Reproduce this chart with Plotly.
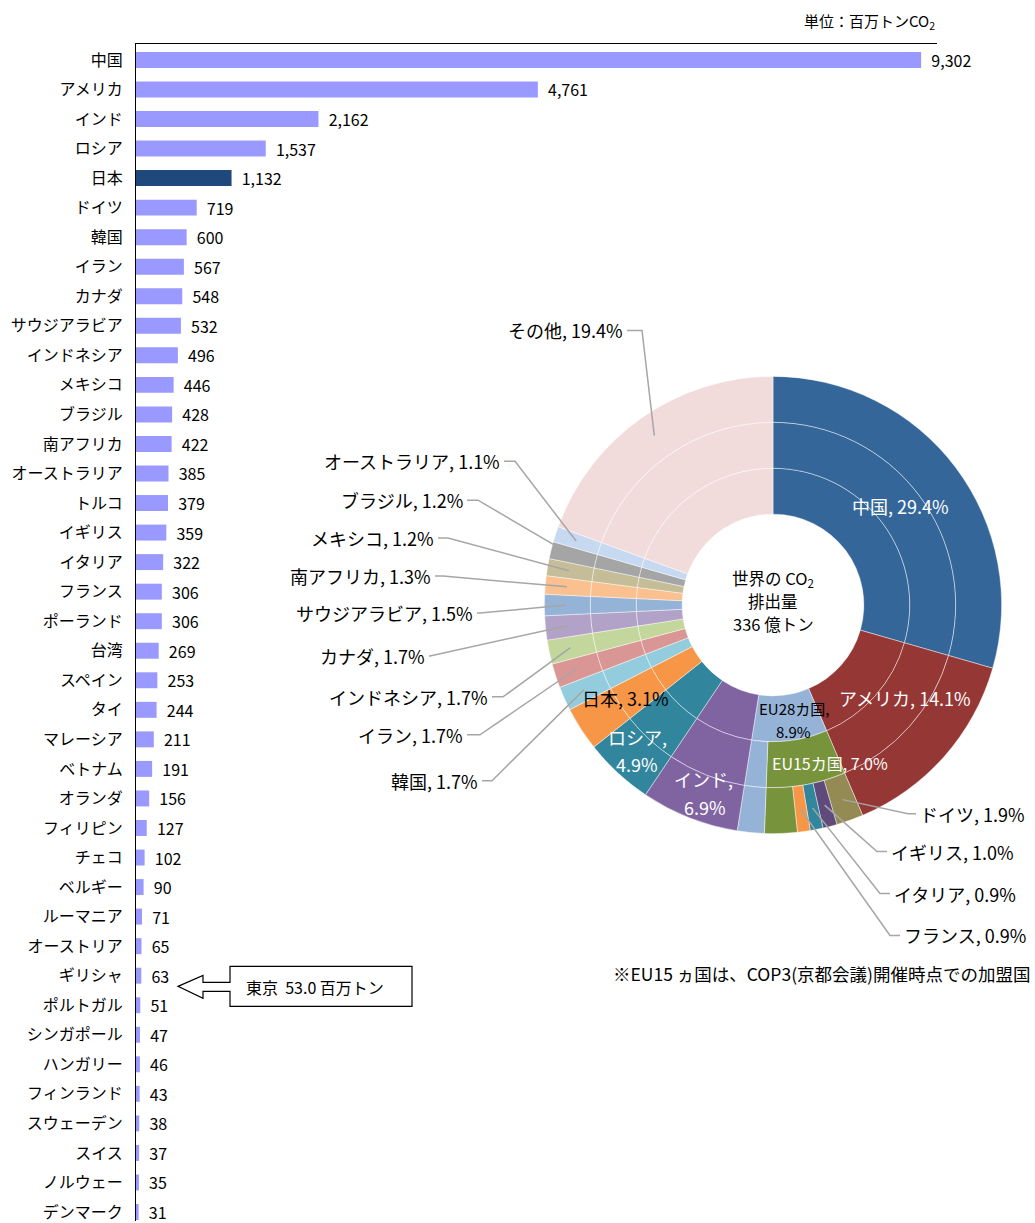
import math
import plotly.graph_objects as go

# ---------------- data ----------------
countries = ["中国", "アメリカ", "インド", "ロシア", "日本", "ドイツ", "韓国", "イラン", "カナダ",
             "サウジアラビア", "インドネシア", "メキシコ", "ブラジル", "南アフリカ", "オーストラリア",
             "トルコ", "イギリス", "イタリア", "フランス", "ポーランド", "台湾", "スペイン", "タイ",
             "マレーシア", "ベトナム", "オランダ", "フィリピン", "チェコ", "ベルギー", "ルーマニア",
             "オーストリア", "ギリシャ", "ポルトガル", "シンガポール", "ハンガリー", "フィンランド",
             "スウェーデン", "スイス", "ノルウェー", "デンマーク"]
emissions = [9302, 4761, 2162, 1537, 1132, 719, 600, 567, 548, 532, 496, 446, 428, 422, 385,
             379, 359, 322, 306, 306, 269, 253, 244, 211, 191, 156, 127, 102, 90, 71,
             65, 63, 51, 47, 46, 43, 38, 37, 35, 31]
highlight_country = "日本"
tokyo_value = 53.0

pie_names = ["中国", "アメリカ", "EU28カ国", "インド", "ロシア", "日本", "韓国", "イラン",
             "インドネシア", "カナダ", "サウジアラビア", "南アフリカ", "メキシコ", "ブラジル",
             "オーストラリア", "その他"]
pie_shares = [29.4, 14.1, 8.9, 6.9, 4.9, 3.1, 1.7, 1.7, 1.7, 1.7, 1.5, 1.3, 1.2, 1.2, 1.1, 19.4]
pie_colors = ["#346699", "#953735", "#95B3D7", "#8064A2", "#31859C", "#F79646", "#93CDDD",
              "#D99694", "#C3D69B", "#B3A2C7", "#95B3D7", "#FAC090", "#C4BD97", "#A5A5A5",
              "#C6D9F1", "#F2DCDB"]

eu15_name, eu15_share, eu15_color = "EU15カ国", 7.0, "#77933C"
eu_rest_share = 1.9            # EU28 excluding EU15
eu15_members = ["ドイツ", "イギリス", "イタリア", "フランス"]
eu15_member_shares = [1.9, 1.0, 0.9, 0.9]
eu15_member_colors = ["#948A54", "#604A7B", "#31859C", "#F79646"]
eu15_rest_share = 2.3          # EU15 excluding the four members above

world_total_text = "336 億トン"

# ---------------- geometry helpers ----------------
W, H = 1035, 1223
def X(px):
    return px / W
def Y(py):
    return 1 - py / H

CX, CY = 773, 606          # donut centre (px)
R_HOLE, R1, R2, R3 = 91, 137, 183, 229
R_LEADER = 207

JP = "Noto Sans CJK JP"

fig = go.Figure()

# ---------------- bar chart ----------------
bar_colors = ["#1F497D" if c == highlight_country else "#9999FF" for c in countries]
fig.add_trace(go.Bar(
    x=emissions, y=countries, orientation="h",
    marker=dict(color=bar_colors, line_width=0),
    texttemplate="\u00a0\u00a0%{x:,}", textposition="outside", constraintext="none",
    textfont=dict(family=JP, size=16, color="black"),
    cliponaxis=False, hoverinfo="skip", showlegend=False,
))

row0, row_step = 60, 29.59
plot_top, plot_bottom = 44, 1223
fig.update_layout(
    bargap=0.46,
    xaxis=dict(domain=[X(136), X(937)], range=[0, 9490], side="top", showline=True,
               linecolor="black", linewidth=1, showticklabels=False, showgrid=False,
               zeroline=False, ticks=""),
    yaxis=dict(domain=[Y(plot_bottom), Y(plot_top)], type="category",
               categoryorder="array", categoryarray=countries,
               range=[(plot_bottom - row0) / row_step, (plot_top - row0) / row_step],
               showline=True, linecolor="black", linewidth=1, showgrid=False,
               ticks="", ticklabelstandoff=9,
               tickfont=dict(family=JP, size=16, color="black")),
)

# ---------------- donut (three rings) ----------------
def ring_lists(level):
    names, vals, cols = [], [], []
    for n, v, c in zip(pie_names, pie_shares, pie_colors):
        if n == "EU28カ国" and level == 2:
            names += [eu15_name, "EU28その他"]
            vals += [eu15_share, eu_rest_share]
            cols += [eu15_color, c]
        elif n == "EU28カ国" and level == 3:
            names += eu15_members + ["EU15その他", "EU28その他"]
            vals += eu15_member_shares + [eu15_rest_share, eu_rest_share]
            cols += eu15_member_colors + [eu15_color, c]
        else:
            names.append(n); vals.append(v); cols.append(c)
    return names, vals, cols

for level, (r_in, r_out) in zip([1, 2, 3], [(R_HOLE, R1), (R1, R2), (R2, R3)]):
    names, vals, cols = ring_lists(level)
    fig.add_trace(go.Pie(
        labels=[f"{n}_{level}" for n in names], values=vals,
        marker=dict(colors=cols, line=dict(color="rgba(255,255,255,0.55)", width=0.8)),
        hole=r_in / r_out, sort=False, direction="clockwise", rotation=0,
        textinfo="none", hoverinfo="skip", showlegend=False,
        domain=dict(x=[X(CX - r_out), X(CX + r_out)], y=[Y(CY + r_out), Y(CY - r_out)]),
    ))

# leader-line anchor points from the outer ring data
o_names, o_vals, _ = ring_lists(3)
total = sum(o_vals)
anchor = {}
cum = 0
for n, v in zip(o_names, o_vals):
    th = 2 * math.pi * (cum + v / 2) / total
    anchor[n] = (CX + R_LEADER * math.sin(th), CY - R_LEADER * math.cos(th))
    cum += v
share_of = dict(zip(pie_names, pie_shares))
share_of.update(dict(zip(eu15_members, eu15_member_shares)))

# label placements: name -> (text edge x, y, elbow x)
left_labels = {
    "その他": (625, 331, 642), "オーストラリア": (502, 462, 515), "ブラジル": (465, 501, 478),
    "メキシコ": (436, 539, 448), "南アフリカ": (433, 577, 443), "サウジアラビア": (475, 614, 480),
    "カナダ": (427, 657, 430), "インドネシア": (490, 698, 503), "イラン": (465, 736, 480),
    "韓国": (480, 782, 492),
}
right_labels = {
    "ドイツ": (918, 815, 908), "イギリス": (889, 853, 877),
    "イタリア": (892, 895, 880), "フランス": (902, 937, 890),
}
annotations = []
shapes = []
for side, table in (("left", left_labels), ("right", right_labels)):
    for n, (tx, ty, ex) in table.items():
        ax_, ay_ = anchor[n]
        edge = tx + 2 if side == "left" else tx - 2
        shapes.append(dict(type="path", xref="paper", yref="paper",
                           path=f"M{X(ax_)},{Y(ay_)} L{X(ex)},{Y(ty)} L{X(edge)},{Y(ty)}",
                           line=dict(color="#A6A6A6", width=1.5)))
        annotations.append(dict(x=X(tx), y=Y(ty), xref="paper", yref="paper",
                                xanchor="right" if side == "left" else "left", yanchor="middle",
                                text=f"{n}, {share_of[n]}%", showarrow=False,
                                font=dict(family=JP, size=18, color="black")))

# in-slice labels (one annotation per text line)
inside = [
    ("中国, 29.4%", 900, 507, "white", 18),
    ("アメリカ, 14.1%", 905, 699, "white", 18),
    ("EU28カ国,", 794, 710, "black", 15),
    (f"{share_of['EU28カ国']}%", 793, 733, "black", 15),
    (f"{eu15_name}, {eu15_share}%", 830, 764, "white", 16),
    ("インド,", 703, 780, "white", 18),
    (f"{share_of['インド']}%", 705, 808, "white", 18),
    ("ロシア,", 637, 738, "white", 18),
    (f"{share_of['ロシア']}%", 637, 765, "white", 18),
    ("日本, 3.1%", 625, 699, "black", 18),
]
for t, x, y, c, s in inside:
    annotations.append(dict(x=X(x), y=Y(y), xref="paper", yref="paper", text=t,
                            showarrow=False, xanchor="center", yanchor="middle",
                            font=dict(family=JP, size=s, color=c)))

for t, y in (("世界の CO<sub>2</sub>", 579), ("排出量", 602), (world_total_text, 625)):
    annotations.append(dict(x=X(CX), y=Y(y), xref="paper", yref="paper",
                            xanchor="center", yanchor="middle", text=t, showarrow=False,
                            font=dict(family=JP, size=16.5, color="black")))

# unit, footnote
annotations.append(dict(x=X(937), y=Y(22), xref="paper", yref="paper", xanchor="right",
                        yanchor="middle",
                        text="単位：百万トンCO<sub>2</sub>", showarrow=False,
                        font=dict(family=JP, size=15, color="black")))
annotations.append(dict(x=X(1032), y=Y(975), xref="paper", yref="paper", xanchor="right",
                        yanchor="middle",
                        text="※EU15 ヵ国は、COP3(京都会議)開催時点での加盟国", showarrow=False,
                        font=dict(family=JP, size=17.5, color="black")))

# Tokyo callout
shapes.append(dict(type="path", xref="paper", yref="paper",
                   path=(f"M{X(412)},{Y(968)} L{X(230)},{Y(968)} L{X(230)},{Y(984)} "
                         f"L{X(203)},{Y(984)} L{X(203)},{Y(977)} L{X(178)},{Y(988)} "
                         f"L{X(203)},{Y(1000)} L{X(203)},{Y(993)} L{X(230)},{Y(993)} "
                         f"L{X(230)},{Y(1008)} L{X(412)},{Y(1008)} Z"),
                   line=dict(color="black", width=1.2), fillcolor="white"))
annotations.append(dict(x=X(244), y=Y(989), xref="paper", yref="paper", xanchor="left",
                        yanchor="middle",
                        text=f"東京  {tokyo_value:.1f} 百万トン", showarrow=False,
                        font=dict(family=JP, size=16, color="black")))

fig.update_layout(
    width=W, height=H, margin=dict(l=0, r=0, t=0, b=0),
    paper_bgcolor="white", plot_bgcolor="white",
    annotations=annotations, shapes=shapes,
    font=dict(family=JP),
)

fig.write_html("out.html", config={"displayModeBar": False},
               post_script="document.body.style.margin='0px';")
